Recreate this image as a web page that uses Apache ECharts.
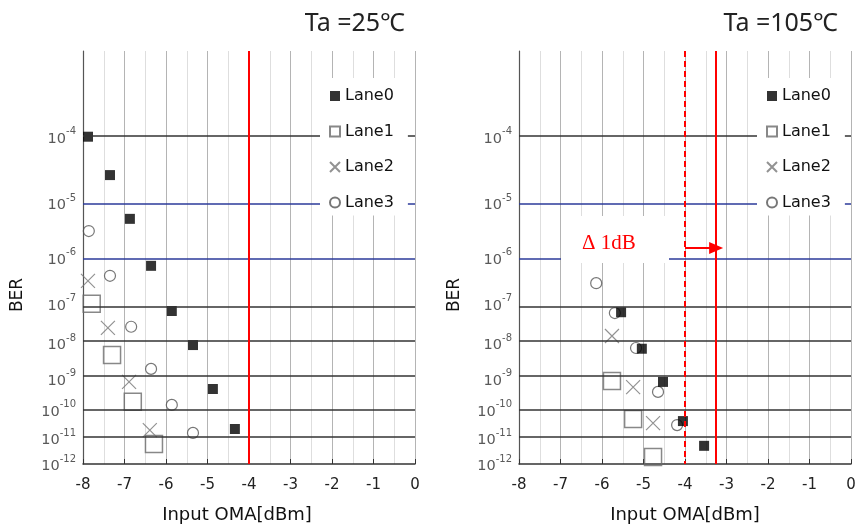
<!doctype html>
<html>
<head>
    <meta charset="UTF-8">
    <title>BER vs Input OMA</title>
    <script src="https://cdn.jsdelivr.net/npm/echarts@6/dist/echarts.min.js"></script>
    <style>
        html, body { margin: 0; padding: 0; background: #fff; }
        #main { width: 861px; height: 532px; }
    </style>
</head>
<body>
<div id="main"></div>
<script type="text/javascript">
    // BER is stored as its exponent (log10 BER); the y axis is linear in log10(-log10 BER)
    var berTicks = [-4, -5, -6, -7, -8, -9, -10, -11, -12];
    var berTop = -3;
    var berBottom = -12;
    var xTicksMin = -8;
    var xTicksMax = 0;
    var laneNames = ['Lane0', 'Lane1', 'Lane2', 'Lane3'];

    // Ta = 25 C
    var lane0X25 = [-7.88, -7.35, -6.87, -6.36, -5.86, -5.35, -4.87, -4.34];
    var lane0Ber25 = [-4.0, -4.55, -5.27, -6.17, -7.18, -8.05, -9.33, -10.67];
    var lane1X25 = [-7.79, -7.30, -6.80, -6.29];
    var lane1Ber25 = [-7.01, -8.32, -9.74, -11.22];
    var lane2X25 = [-7.88, -7.40, -6.89, -6.39];
    var lane2Ber25 = [-6.49, -7.60, -9.11, -10.71];
    var lane3X25 = [-7.86, -7.35, -6.84, -6.36, -5.86, -5.35];
    var lane3Ber25 = [-5.49, -6.38, -7.57, -8.72, -9.84, -10.81];
    var limit25 = -4;

    // Ta = 105 C
    var lane0X105 = [-5.54, -5.04, -4.53, -4.05, -3.54];
    var lane0Ber105 = [-7.21, -8.15, -9.11, -10.39, -11.29];
    var lane1X105 = [-5.76, -5.25, -4.77];
    var lane1Ber105 = [-9.08, -10.32, -11.72];
    var lane2X105 = [-5.76, -5.25, -4.77];
    var lane2Ber105 = [-7.81, -9.27, -10.46];
    var lane3X105 = [-6.14, -5.69, -5.18, -4.65, -4.19];
    var lane3Ber105 = [-6.54, -7.23, -8.13, -9.42, -10.53];
    var limit105 = -4;
    var shifted105 = -3.25;
    var arrowBer = -5.81;

    function q(e) {
        return Math.log10(-e);
    }
    function pts(xs, bers) {
        var out = [];
        for (var i = 0; i < xs.length; i++) {
            out.push([xs[i], q(bers[i])]);
        }
        return out;
    }

    var laneStyle = [
        {symbol: 'rect', symbolSize: 10, itemStyle: {color: '#000', borderColor: '#000', borderWidth: 0}},
        {symbol: 'rect', symbolSize: 17, itemStyle: {color: 'rgba(0,0,0,0)', borderColor: '#6a6a6a', borderWidth: 1.5}},
        {symbol: 'path://M0,0L10,10M10,0L0,10', symbolSize: 14, itemStyle: {color: 'rgba(0,0,0,0)', borderColor: '#777', borderWidth: 1.2}},
        {symbol: 'circle', symbolSize: 11, itemStyle: {color: 'rgba(0,0,0,0)', borderColor: '#555', borderWidth: 1.2}}
    ];

    // horizontal reference lines at each decade
    var hLines = [];
    for (var i = 0; i < berTicks.length - 1; i++) {
        var blue = berTicks[i] === -5 || berTicks[i] === -6;
        hLines.push({
            yAxis: q(berTicks[i]),
            lineStyle: {color: blue ? '#2b3a9a' : '#333', width: 1.5, type: 'solid'}
        });
    }

    function makeSeries(idx, lists, vLines, extra) {
        var s = [];
        for (var k = 0; k < 4; k++) {
            var item = {
                name: laneNames[k],
                type: 'scatter',
                xAxisIndex: idx,
                yAxisIndex: idx,
                symbol: laneStyle[k].symbol,
                symbolSize: laneStyle[k].symbolSize,
                itemStyle: laneStyle[k].itemStyle,
                data: lists[k],
                z: 3 + (k === 0 ? 1 : 0)
            };
            s.push(item);
        }
        var mlData = hLines.concat(vLines);
        if (extra) mlData = mlData.concat(extra);
        s[0].markLine = {
            silent: true,
            symbol: 'none',
            label: {show: false},
            animation: false,
            data: mlData
        };
        return s;
    }

    var series = makeSeries(0, [
        pts(lane0X25, lane0Ber25), pts(lane1X25, lane1Ber25),
        pts(lane2X25, lane2Ber25), pts(lane3X25, lane3Ber25)
    ], [
        {xAxis: limit25, lineStyle: {color: '#ff0000', width: 2, type: 'solid'}}
    ]).concat(makeSeries(1, [
        pts(lane0X105, lane0Ber105), pts(lane1X105, lane1Ber105),
        pts(lane2X105, lane2Ber105), pts(lane3X105, lane3Ber105)
    ], [
        {xAxis: limit105, lineStyle: {color: '#ff0000', width: 2, type: [6, 4]}},
        {xAxis: shifted105, lineStyle: {color: '#ff0000', width: 2, type: 'solid'}}
    ], [
        [
            {coord: [limit105, q(arrowBer)], symbol: 'none', lineStyle: {color: '#ff0000', width: 2, type: 'solid'}},
            {coord: [shifted105, q(arrowBer)], symbol: 'triangle', symbolSize: [12, 14], symbolRotate: -90}
        ]
    ]));

    function xAxisOf(idx) {
        return {
            type: 'value',
            gridIndex: idx,
            min: xTicksMin,
            max: xTicksMax,
            interval: 1,
            axisLine: {onZero: false, lineStyle: {color: '#333', width: 1.5}},
            axisTick: {inside: true, length: 5, lineStyle: {color: '#333'}},
            axisLabel: {margin: 14, fontSize: 15, color: '#222', fontFamily: 'DejaVu Sans'},
            splitLine: {show: true, lineStyle: {color: '#b4b4b4', width: 1}},
            minorTick: {show: false, splitNumber: 2},
            minorSplitLine: {show: true, lineStyle: {color: '#dedede', width: 1}}
        };
    }
    function yAxisOf(idx) {
        var vals = berTicks.map(q);
        return {
            type: 'value',
            gridIndex: idx,
            inverse: true,
            min: q(berTop),
            max: q(berBottom),
            axisLine: {show: true, onZero: false, lineStyle: {color: '#555', width: 1.2}},
            axisTick: {show: false, customValues: vals},
            splitLine: {show: false},
            axisLabel: {
                customValues: vals,
                margin: 7,
                formatter: function (v) {
                    var n = Math.round(Math.pow(10, v));
                    return '{b|10}{s|-' + n + '}';
                },
                rich: {
                    b: {fontSize: 14.5, color: '#595959', fontFamily: 'DejaVu Sans', verticalAlign: 'bottom', lineHeight: 20},
                    s: {fontSize: 10, color: '#595959', fontFamily: 'DejaVu Sans', verticalAlign: 'top', lineHeight: 20}
                }
            }
        };
    }

    function legendOf(left) {
        return {
            orient: 'vertical',
            left: left,
            top: 78,
            width: 85,
            backgroundColor: '#fff',
            padding: [10, 14, 5, 9],
            itemWidth: 10,
            itemHeight: 10,
            itemGap: 19.5,
            data: laneNames,
            textStyle: {fontSize: 16, color: '#111', fontFamily: 'DejaVu Sans'},
            z: 10,
            selectedMode: false
        };
    }

    var myChart = echarts.init(document.getElementById('main'));
    var option = {
        backgroundColor: '#fff',
        animation: false,
        title: [
            {text: 'Ta =25℃', right: 451, top: 6, textStyle: {fontSize: 25, fontWeight: 'normal', color: '#222', fontFamily: 'Noto Sans'}},
            {text: 'Ta =105℃', right: 18, top: 6, textStyle: {fontSize: 25, fontWeight: 'normal', color: '#222', fontFamily: 'Noto Sans'}}
        ],
        legend: [legendOf(320), legendOf(757)],
        grid: [
            {left: 83, right: 446, top: 51, bottom: 68},
            {left: 519, right: 10, top: 51, bottom: 68}
        ],
        xAxis: [xAxisOf(0), xAxisOf(1)],
        yAxis: [yAxisOf(0), yAxisOf(1)],
        series: series,
        graphic: [
            // axis names
            {type: 'text', x: 18, y: 295, rotation: Math.PI / 2, style: {text: 'BER', fontSize: 17, fill: '#111', fontFamily: 'DejaVu Sans', align: 'center', verticalAlign: 'middle'}},
            {type: 'text', x: 455, y: 295, rotation: Math.PI / 2, style: {text: 'BER', fontSize: 17, fill: '#111', fontFamily: 'DejaVu Sans', align: 'center', verticalAlign: 'middle'}},
            {type: 'text', x: 237, y: 515, style: {text: 'Input OMA[dBm]', fontSize: 18, fill: '#111', fontFamily: 'DejaVu Sans', align: 'center', verticalAlign: 'middle'}},
            {type: 'text', x: 685, y: 515, style: {text: 'Input OMA[dBm]', fontSize: 18, fill: '#111', fontFamily: 'DejaVu Sans', align: 'center', verticalAlign: 'middle'}},
            // delta box
            {type: 'rect', z: 20, shape: {x: 561, y: 216, width: 108, height: 47}, style: {fill: '#fff'}},
            {type: 'text', z: 21, x: 582, y: 243, style: {text: 'Δ 1dB', fontSize: 21, fill: '#ff0000', fontFamily: 'Liberation Serif', verticalAlign: 'middle'}}
        ]
    };
    myChart.setOption(option);
</script>
</body>
</html>
